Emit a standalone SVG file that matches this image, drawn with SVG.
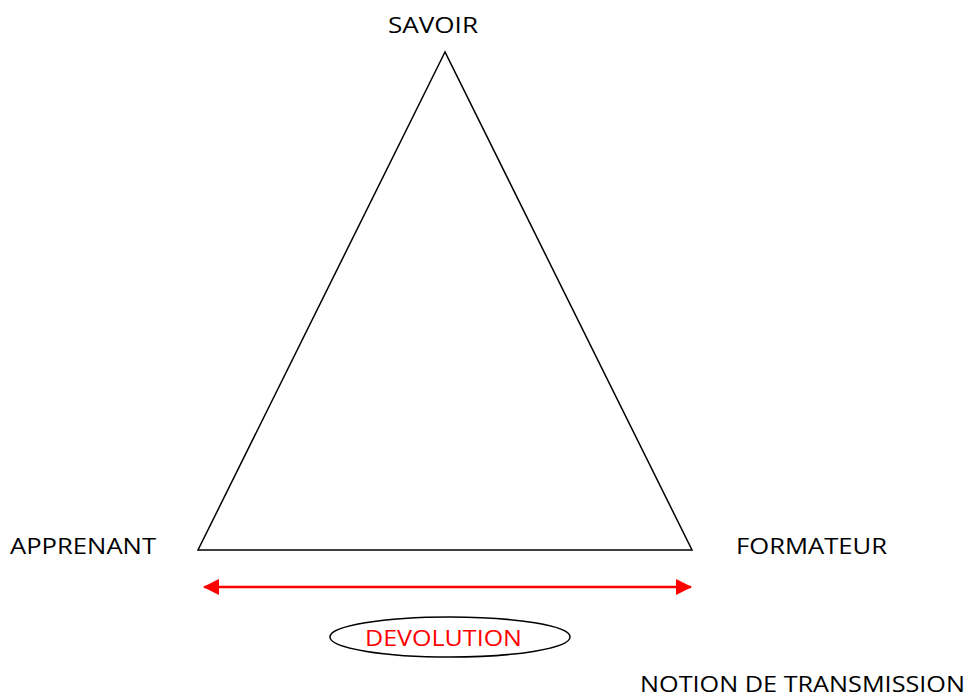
<svg xmlns="http://www.w3.org/2000/svg" width="969" height="697" viewBox="0 0 969 697">
<style>
text{font-family:"Open Sans","Liberation Sans",sans-serif;font-size:22px;fill:#000}
.red{fill:#ff0000}
</style>
<defs>
<marker id="ah" viewBox="0 0 16 16" refX="15" refY="8" markerWidth="16" markerHeight="16" markerUnits="userSpaceOnUse" orient="auto-start-reverse">
<path d="M0,0 L16,8 L0,16 Z" fill="#ff0000"/>
</marker>
</defs>
<rect width="969" height="697" fill="#fff"/>
<g id="triangle">
<polygon points="445,52 198,550 692,550" fill="none" stroke="#000" stroke-width="1.5"/>
</g>
<g id="savoir"><text x="388" y="33" textLength="90" lengthAdjust="spacingAndGlyphs">SAVOIR</text></g>
<g id="apprenant"><text x="10" y="554" textLength="146" lengthAdjust="spacingAndGlyphs">APPRENANT</text></g>
<g id="formateur"><text x="736" y="554" textLength="151" lengthAdjust="spacingAndGlyphs">FORMATEUR</text></g>
<g id="connectors">
<line x1="204" y1="587" x2="691" y2="587" stroke="#ff0000" stroke-width="2.5" marker-start="url(#ah)" marker-end="url(#ah)"/>
</g>
<g id="devolution">
<ellipse cx="450" cy="637" rx="120" ry="20" fill="#fff" stroke="#000" stroke-width="1.5"/>
<text class="red" x="365" y="646" textLength="157" lengthAdjust="spacingAndGlyphs">DEVOLUTION</text>
</g>
<g id="notion"><text x="640" y="692" textLength="325" lengthAdjust="spacingAndGlyphs">NOTION DE TRANSMISSION</text></g>
</svg>
